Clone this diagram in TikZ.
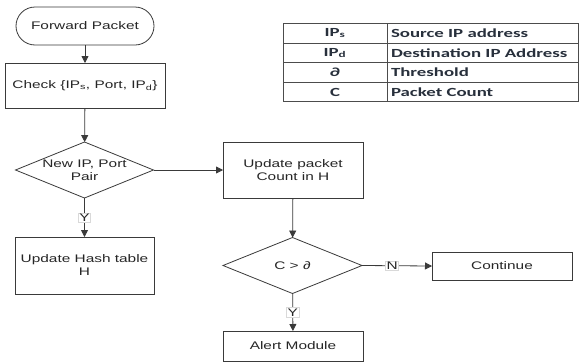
\documentclass[tikz,border=0pt]{standalone}
\usepackage{fontspec}
\usetikzlibrary{arrows.meta,shapes.geometric}
\newfontfamily\flowfont[FakeStretch=1.4]{Liberation Sans}
\newfontfamily\tabfont[FakeStretch=1.52]{Carlito}
\definecolor{linec}{HTML}{3A3A3A}
\definecolor{tabtext}{HTML}{28303C}
\begin{document}
\begin{tikzpicture}[x=1pt,y=-1pt,
  every node/.style={inner sep=0pt, outer sep=0pt},
  ftxt/.style={font=\flowfont\fontsize{11}{13}\selectfont, text=black!85, align=center},
  proc/.style={draw=linec, line width=0.8pt, minimum width=#1, ftxt},
  term/.style={draw=linec, line width=0.8pt, rounded corners=19pt, minimum width=138pt, minimum height=38pt, ftxt},
  dia/.style={draw=linec, line width=0.8pt, diamond, minimum width=138pt, minimum height=56pt},
  conn/.style={draw=linec, line width=0.8pt},
  arr/.style={conn, -{Triangle[length=7pt,width=7pt]}},
  lab/.style={ftxt, fill=white, draw=black!15, line width=0.4pt, inner sep=1pt},
  ttxt/.style={font=\tabfont\bfseries\fontsize{12.4}{14}\selectfont, text=tabtext},
  tline/.style={draw=black!70, line width=0.8pt}
]
\useasboundingbox (0,0) rectangle (580,362);
\fill[white] (0,0) rectangle (580,362);

% flow nodes
\node[term] (fp) at (85,26) {Forward Packet};
\node[proc=160pt, minimum height=45pt] (chk) at (85,85.5) {Check \{IP\textsubscript{s}, Port, IP\textsubscript{d}\}};
\node[dia] (d1) at (84.5,170) {};
\node[ftxt] (d1t) at (d1) {New IP, Port\\Pair};
\node[proc=139pt, minimum height=57pt] (hash) at (84.5,265.5) {Update Hash table\\H};
\node[proc=140pt, minimum height=56pt] (upd) at (293,170) {Update packet\\Count in H};
\node[dia, minimum width=139pt] (d2) at (292.5,265.5) {};
\node[ftxt] (d2t) at (d2) {C > ∂};
\node[proc=140pt, minimum height=28pt] (cont) at (502,266) {Continue};
\node[proc=140pt, minimum height=30pt] (alert) at (293,346) {Alert Module};

% connectors
\draw[arr] (fp) -- (chk);
\draw[arr] (chk) -- (d1);
\draw[arr] (d1) -- node[lab] (y1) {Y} (hash);
\draw[arr] (d1.east) -- (upd.west);
\draw[arr] (upd) -- (d2);
\draw[arr] (d2.east) -- node[lab, pos=0.43] (n2) {N} (cont.west);
\draw[arr] (d2) -- node[lab, pos=0.5] (y2) {Y} (alert);

% table
\draw[tline] (283,23) rectangle (578,101);
\draw[tline] (387,23) -- (387,101);
\draw[tline] (283,43) -- (578,43);
\draw[tline] (283,62.5) -- (578,62.5);
\draw[tline] (283,82) -- (578,82);
\node[ttxt] (k1) at (335,33) {IP\textsubscript{s}};
\node[ttxt] (k2) at (335,53) {IP\textsubscript{d}};
\node[ttxt] (k3) at (335,72.5) {∂};
\node[ttxt] (k4) at (335,92) {C};
\node[ttxt, anchor=west] (v1) at (391,33) {Source IP address};
\node[ttxt, anchor=west] (v2) at (391,53) {Destination IP Address};
\node[ttxt, anchor=west] (v3) at (391,72.5) {Threshold};
\node[ttxt, anchor=west] (v4) at (391,92) {Packet Count};
\end{tikzpicture}
\end{document}
